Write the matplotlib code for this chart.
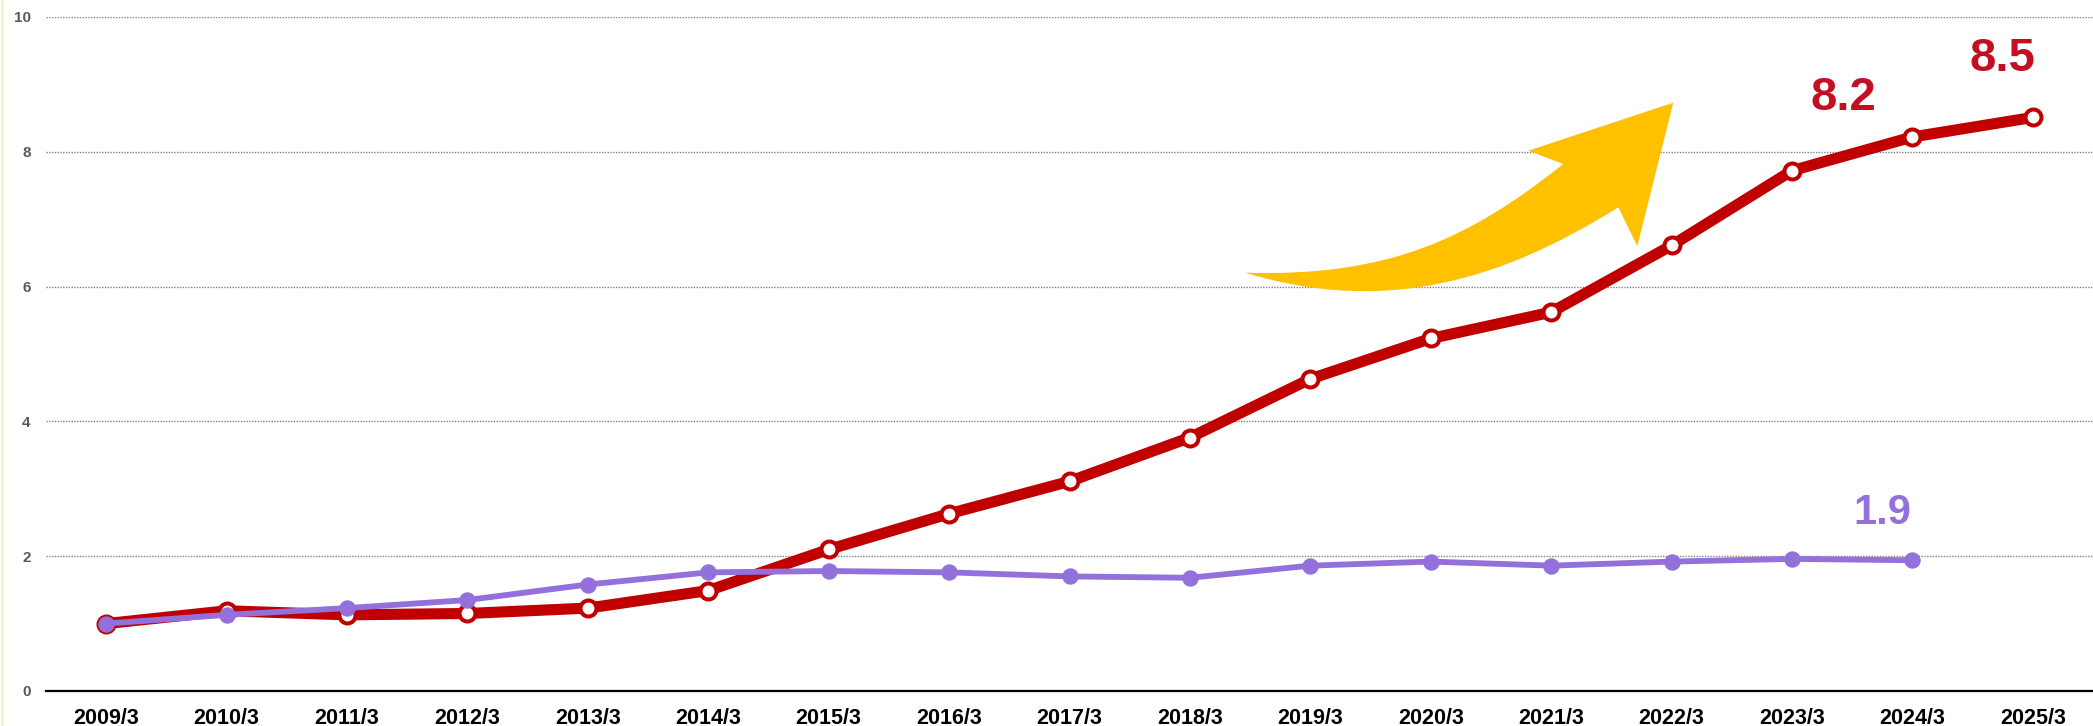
import matplotlib.pyplot as plt
from matplotlib.path import Path
from matplotlib.patches import PathPatch, Rectangle

# Évolution des deux séries (base 1 en 2009/3)
annees = ["2009/3", "2010/3", "2011/3", "2012/3", "2013/3", "2014/3", "2015/3", "2016/3",
          "2017/3", "2018/3", "2019/3", "2020/3", "2021/3", "2022/3", "2023/3", "2024/3", "2025/3"]
serie_rouge = [1.0, 1.19, 1.13, 1.15, 1.23, 1.49, 2.10, 2.63, 3.11, 3.76, 4.63, 5.23, 5.62,
               6.61, 7.72, 8.22, 8.51]
serie_violette = [1.0, 1.13, 1.23, 1.35, 1.58, 1.76, 1.78, 1.76, 1.70, 1.68, 1.86, 1.92, 1.86,
                  1.92, 1.96, 1.94]
graduations = [0, 2, 4, 6, 8, 10]

rouge = '#C00000'
rouge_texte = '#C40F23'
violet = '#9370DB'
jaune = '#FFC000'

plt.rcParams['font.family'] = ['Liberation Sans', 'DejaVu Sans']
plt.rcParams['font.weight'] = 'bold'

W, H = 2093, 726
fig = plt.figure(figsize=(W / 100, H / 100), dpi=100)
ax = fig.add_axes([46 / W, 1 - 691 / H, 1 - 46 / W, (691 - 17) / H])

x = list(range(len(annees)))
ax.plot(x, serie_rouge, color=rouge, linewidth=8, marker='o', markersize=11.5,
        markerfacecolor='white', markeredgecolor=rouge, markeredgewidth=2.9, zorder=3)
ax.plot(x[:len(serie_violette)], serie_violette, color=violet, linewidth=4.2, marker='o',
        markersize=10.8, zorder=4)

# étiquettes des dernières valeurs
ax.annotate(f"{serie_rouge[15]:.1f}", (15, serie_rouge[15]), xytext=(-50, 28),
            textcoords='offset points', ha='center', va='center', color=rouge_texte,
            fontsize=34, fontweight='bold')
ax.annotate(f"{serie_rouge[16]:.1f}", (16, serie_rouge[16]), xytext=(-22, 42),
            textcoords='offset points', ha='center', va='center', color=rouge_texte,
            fontsize=34, fontweight='bold')
ax.annotate(f"{serie_violette[15]:.1f}", (15, serie_violette[15]), xytext=(-22, 34),
            textcoords='offset points', ha='center', va='center', color=violet,
            fontsize=30, fontweight='bold')

ax.set_xlim(-0.5, len(annees) - 0.5)
ax.set_ylim(0, 10)
ax.set_xticks(x)
ax.set_xticklabels(annees, fontsize=15.5, fontweight='bold', color='black')
ax.set_yticks(graduations)
ax.set_yticklabels([str(g) for g in graduations], fontsize=11, fontweight='bold', color='#595959')
ax.tick_params(axis='both', length=0)
ax.tick_params(axis='x', pad=12)
ax.tick_params(axis='y', pad=11)

ax.grid(axis='y', color='#808080', linestyle=(0, (1, 1)), linewidth=1)
ax.set_axisbelow(True)
for s in ['left', 'right', 'top']:
    ax.spines[s].set_visible(False)
ax.spines['bottom'].set_color('black')
ax.spines['bottom'].set_linewidth(1.6)
ax.spines['bottom'].set_zorder(5)


# flèche jaune (coordonnées en pixels de la figure)
def px(p):
    return (p[0] / W, 1 - p[1] / H)


sommets = [(1245, 272.7), (1390, 277), (1470, 238), (1563.3, 164),
           (1528.3, 150.7), (1673.3, 102.7), (1637.3, 246), (1618.3, 207.3),
           (1505, 278), (1389, 316.2), (1245, 272.7), (1245, 272.7)]
codes = [Path.MOVETO, Path.CURVE4, Path.CURVE4, Path.CURVE4,
         Path.LINETO, Path.LINETO, Path.LINETO, Path.LINETO,
         Path.CURVE4, Path.CURVE4, Path.CURVE4, Path.CLOSEPOLY]
fleche = PathPatch(Path([px(p) for p in sommets], codes), facecolor=jaune, edgecolor='none',
                   transform=fig.transFigure, zorder=6)
fig.add_artist(fleche)

# liseré jaune pâle à gauche
fig.add_artist(Rectangle((1 / W, 0), 2.5 / W, 1, transform=fig.transFigure,
                         facecolor='#FFF0C8', edgecolor='none'))

fig.savefig('out.png', dpi=100)
